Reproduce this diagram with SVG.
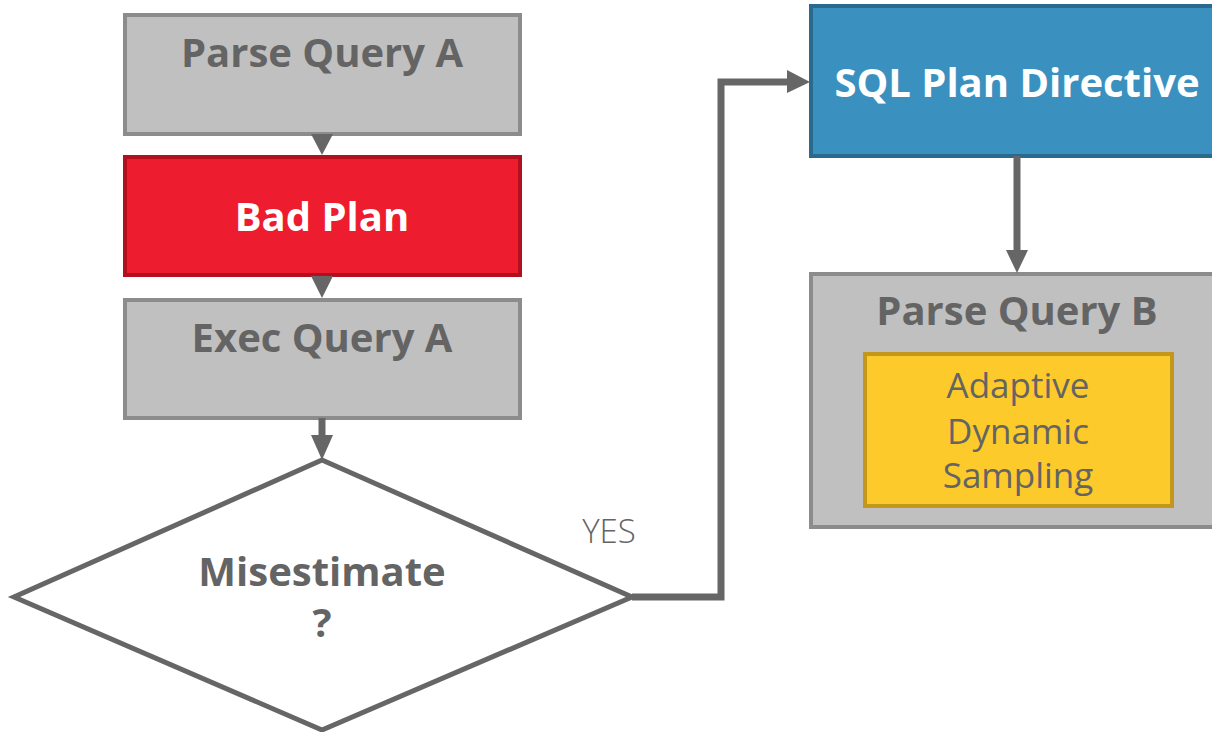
<svg xmlns="http://www.w3.org/2000/svg" width="1212" height="732" viewBox="0 0 1212 732">
<style>
.box{stroke-width:4}
.gray{fill:#c0c0c0;stroke:#8c8c8c}
.t{font-family:"Open Sans","Noto Sans","Liberation Sans",sans-serif;text-anchor:middle}
.b{font-weight:700;font-size:40px}
.dk{fill:#646464}
.wh{fill:#ffffff}
.conn{fill:none;stroke:#666666;stroke-width:7}
.head{fill:#666666}
</style>
<rect width="1212" height="732" fill="#ffffff"/>
<g id="parseA">
<rect class="box gray" x="125" y="15" width="395" height="119"/>
<text class="t b dk" x="322" y="67">Parse Query A</text>
</g>
<g id="badPlan">
<rect class="box" x="125" y="157" width="395" height="118" fill="#ed1c2e" stroke="#b3101f"/>
<text class="t b wh" x="322" y="231">Bad Plan</text>
</g>
<g id="execA">
<rect class="box gray" x="125" y="300" width="395" height="118"/>
<text class="t b dk" x="322" y="352">Exec Query A</text>
</g>
<g id="misestimate">
<polygon points="322,460 632,597 322,730 14,597" fill="#ffffff" stroke="#666666" stroke-width="5" stroke-linejoin="miter"/>
<text class="t b dk" x="322" y="586" font-size="38">Misestimate</text>
<text class="t b dk" x="322" y="637" font-size="38">?</text>
</g>
<g id="sqlPlan">
<rect class="box" x="811" y="6" width="410" height="150" fill="#3a91bf" stroke="#2b6a8f"/>
<text class="t b wh" x="1017" y="97">SQL Plan Directive</text>
</g>
<g id="parseB">
<rect class="box gray" x="811" y="274" width="410" height="253"/>
<text class="t b dk" x="1017" y="325">Parse Query B</text>
<g id="ads">
<rect class="box" x="865" y="354" width="307" height="152" fill="#fdca2b" stroke="#c3981a"/>
<text class="t dk" x="1018" y="398" font-size="35">Adaptive</text>
<text class="t dk" x="1018" y="444" font-size="35">Dynamic</text>
<text class="t dk" x="1018" y="488" font-size="35">Sampling</text>
</g>
</g>
<g id="connectors">
<polygon class="head" points="311,134 333,134 322,155"/>
<polygon class="head" points="311,276 333,276 322,298"/>
<line class="conn" x1="322" y1="418" x2="322" y2="438"/>
<polygon class="head" points="311,435 333,435 322,460"/>
<polyline class="conn" points="632,597 721,597 721,82 790,82"/>
<polygon class="head" points="787,70 810,82 787,93"/>
<line class="conn" x1="1017" y1="156" x2="1017" y2="253"/>
<polygon class="head" points="1006,250 1028,250 1017,273"/>
<text class="t dk" x="609" y="543" font-size="33" font-weight="300">YES</text>
</g>
</svg>
